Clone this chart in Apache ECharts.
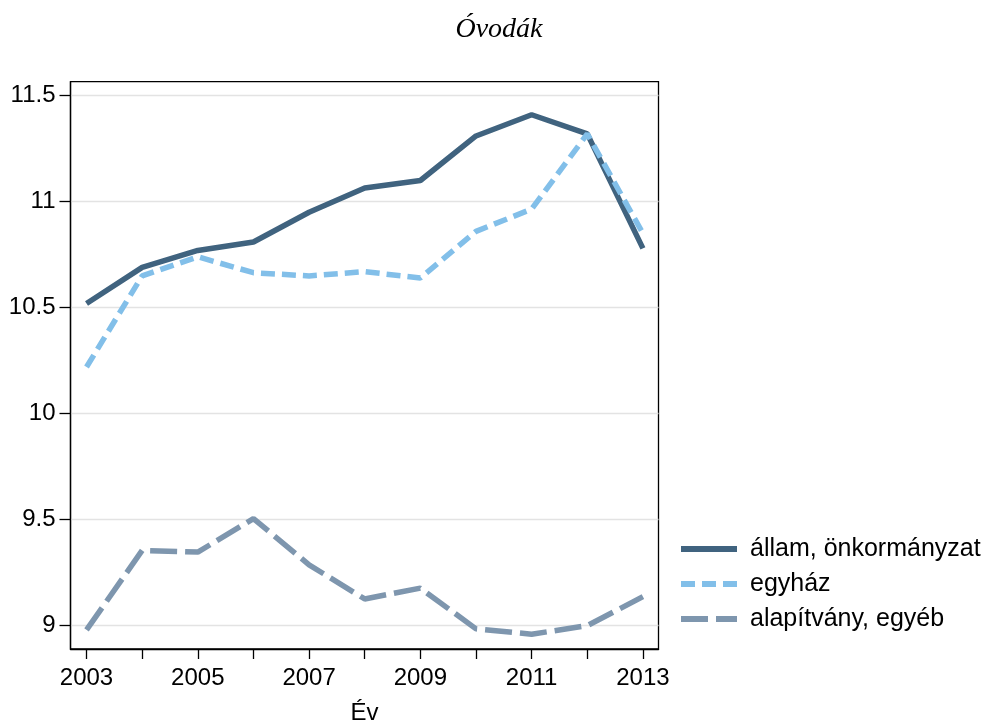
<!DOCTYPE html>
<html>
<head>
<meta charset="utf-8">
<script src="https://cdn.jsdelivr.net/npm/echarts@6/dist/echarts.min.js"></script>
<style>html,body{margin:0;padding:0;background:#fff}#c{width:984px;height:723px}</style>
</head>
<body>
<div id="c"></div>
<script>
var years = [2003,2004,2005,2006,2007,2008,2009,2010,2011,2012,2013];
var allam = [10.52,10.69,10.77,10.81,10.95,11.065,11.10,11.31,11.41,11.32,10.78];
var egyhaz = [10.22,10.65,10.74,10.665,10.65,10.67,10.64,10.86,10.965,11.32,10.85];
var alapitvany = [8.98,9.355,9.347,9.505,9.287,9.126,9.177,8.985,8.96,9.0,9.137];
var yTicks = [9,9.5,10,10.5,11,11.5];
var xLabelYears = [2003,2005,2007,2009,2011,2013];
var seriesNames = ['állam, önkormányzat','egyház','alapítvány, egyéb'];

function pairs(arr){ return years.map(function(y,i){ return [y, arr[i]]; }); }

var chart = echarts.init(document.getElementById('c'), null, {renderer:'canvas'});
var font = 'Liberation Sans, Arial, sans-serif';
chart.setOption({
  animation:false,
  backgroundColor:'#fff',
  title:{
    text:'Óvodák', left:494, top:11, textAlign:'center',
    textStyle:{fontFamily:'Liberation Serif, DejaVu Serif, serif', fontStyle:'italic', fontWeight:'normal', fontSize:28, color:'#000'}
  },
  grid:{left:70.5, right:325.5, top:81.7, bottom:74, show:true, borderColor:'#000', borderWidth:1.3,
        containLabel:false, outerBoundsMode:'none'},
  legend:{
    orient:'vertical', left:673, top:531, itemWidth:56, itemHeight:14, itemGap:9,
    data:seriesNames,
    itemStyle:{opacity:0},
    lineStyle:{width:6},
    textStyle:{fontFamily:font, fontSize:25, color:'#000', lineHeight:26, padding:[0,0,0,8]}
  },
  xAxis:{
    type:'value', min:2002.712, max:2013.28,
    name:'Év', nameLocation:'middle', nameGap:52,
    nameTextStyle:{fontFamily:font, fontSize:24, color:'#000'},
    axisLine:{show:true, lineStyle:{color:'#000', width:1.3}},
    axisTick:{show:true, length:10, lineStyle:{color:'#000', width:1.3}, customValues:years},
    axisLabel:{show:true, customValues:xLabelYears, fontFamily:font, fontSize:24, color:'#000', margin:17,
      formatter:function(v){return String(v);}},
    splitLine:{show:false}
  },
  yAxis:{
    type:'value', min:8.890, max:11.566,
    axisLine:{show:true, lineStyle:{color:'#000', width:1.3}},
    axisTick:{show:true, length:11, lineStyle:{color:'#000', width:1.3}, customValues:yTicks},
    axisLabel:{show:true, customValues:yTicks, fontFamily:font, fontSize:24, color:'#000', margin:15,
      formatter:function(v){return String(v);}},
    splitLine:{show:true, lineStyle:{color:'#e3e3e3', width:1.3}}
  },
  series:[
    {name:seriesNames[0], type:'line', data:pairs(allam), symbol:'none', z:3,
     lineStyle:{color:'#40637f', width:5.5, type:'solid'}, itemStyle:{color:'#40637f'}},
    {name:seriesNames[1], type:'line', data:pairs(egyhaz), symbol:'none', z:4,
     lineStyle:{color:'#82bfe9', width:5.5, type:[14,7]}, itemStyle:{color:'#82bfe9'}},
    {name:seriesNames[2], type:'line', data:pairs(alapitvany), symbol:'none', z:2,
     lineStyle:{color:'#7e96ae', width:5.5, type:[27,8]}, itemStyle:{color:'#7e96ae'}}
  ]
});
</script>
</body>
</html>
